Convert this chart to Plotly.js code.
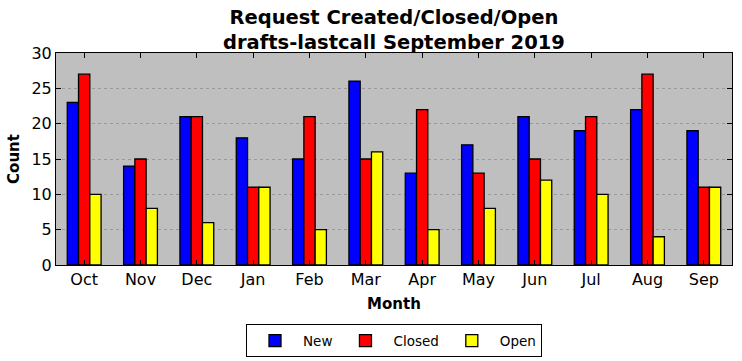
<!DOCTYPE html>
<html><head><meta charset="utf-8">
<script src="https://cdn.plot.ly/plotly-3.0.1.min.js"></script>
<style>body{margin:0;padding:0;background:#fff}#chart{width:742px;height:361px}</style>
</head><body><div id="chart"></div>
<script>
const months = ["Oct","Nov","Dec","Jan","Feb","Mar","Apr","May","Jun","Jul","Aug","Sep"];
const newVals = [23,14,21,18,15,26,13,17,21,19,22,19];
const closedVals = [27,15,21,11,21,15,22,13,15,21,27,11];
const openVals = [10,8,6,11,5,16,5,8,12,10,4,11];
const yTicks = [0,5,10,15,20,25,30];

const F = "DejaVu Sans, sans-serif";
function tr(name, y, color){
  return {type:'bar', name:name, x:months, y:y,
    marker:{color:color, line:{color:'#000', width:1.3}}};
}
const data = [tr('New', newVals, '#0000ff'), tr('Closed', closedVals, '#ff0000'), tr('Open', openVals, '#ffff00')];
const layout = {
  width:742, height:361,
  margin:{l:56, r:10, t:53, b:96, autoexpand:false},
  paper_bgcolor:'#fff', plot_bgcolor:'#bfbfbf',
  font:{family:F, color:'#000'},
  annotations:[{text:'<b>Request Created/Closed/Open<br>drafts-lastcall September 2019</b>', font:{size:19.5, family:F}, xref:'paper', yref:'paper', x:0.5, xanchor:'center', y:1, yanchor:'bottom', yshift:-3, showarrow:false}],
  barmode:'group', bargap:0.4, bargroupgap:0,
  xaxis:{type:'category', automargin:false, range:[-0.5,11.5], ticks:'inside', ticklen:5, tickcolor:'#000', mirror:'ticks', showline:true, linecolor:'#000', linewidth:1, showgrid:false, tickfont:{size:16, family:F},
    title:{text:'<b>Month</b>', font:{size:15, family:F}, standoff:10}},
  yaxis:{automargin:false, range:[0,30], tickvals:yTicks, ticks:'inside', ticklen:5, tickcolor:'#000', mirror:'ticks', showline:true, linecolor:'#000', linewidth:1, showgrid:true, gridcolor:'#999', griddash:'dot', gridwidth:1, zeroline:false, tickfont:{size:16, family:F},
    title:{text:'<b>Count</b>', font:{size:15, family:F}, standoff:8}},
  legend:{orientation:'h', x:0.5, xanchor:'center', y:-0.28, yanchor:'top', bordercolor:'#000', borderwidth:1, font:{size:13.5, family:F}, bgcolor:'#fff', itemwidth:46},
  showlegend:true
};
Plotly.newPlot('chart', data, layout, {displayModeBar:false, staticPlot:true});
</script></body></html>
